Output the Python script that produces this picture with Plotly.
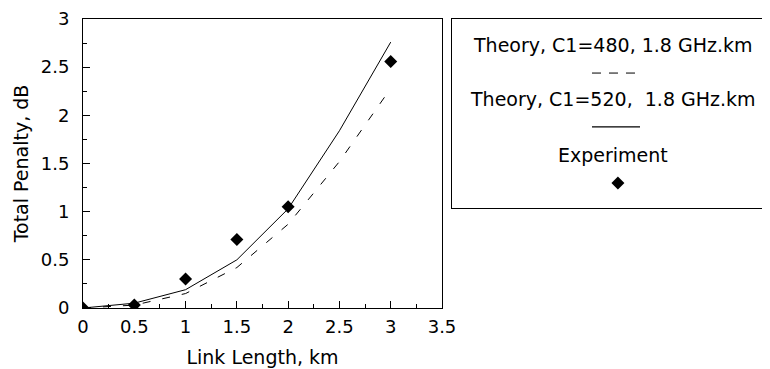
import plotly.graph_objects as go

# ---- data ----
link_km = [0, 0.5, 1.0, 1.5, 2.0, 2.5, 3.0]
theory_c480 = [0, 0.03, 0.15, 0.42, 0.87, 1.52, 2.28]
theory_c520 = [0, 0.05, 0.19, 0.50, 1.03, 1.84, 2.76]
exp_km = [0, 0.5, 1.0, 1.5, 2.0, 3.0]
exp_penalty = [0, 0.03, 0.30, 0.71, 1.05, 2.56]

x_tickvals = [0, 0.5, 1, 1.5, 2, 2.5, 3, 3.5]
x_ticktext = ["0", "0.5", "1", "1.5", "2", "2.5", "3", "3.5"]
y_tickvals = [0, 0.5, 1, 1.5, 2, 2.5, 3]
y_ticktext = ["0", "0.5", "1", "1.5", "2", "2.5", "3"]

label_c480 = "Theory, C1=480, 1.8 GHz.km"
label_c520 = "Theory, C1=520,  1.8 GHz.km"
label_exp = "Experiment"

FONT = "DejaVu Sans"
DASH = "8px,12px"

fig = go.Figure()

fig.add_trace(go.Scatter(x=link_km, y=theory_c480, mode="lines",
                         line=dict(color="black", width=1, dash=DASH),
                         showlegend=False))
fig.add_trace(go.Scatter(x=link_km, y=theory_c520, mode="lines",
                         line=dict(color="black", width=1),
                         showlegend=False))
fig.add_trace(go.Scatter(x=exp_km, y=exp_penalty, mode="markers",
                         marker=dict(symbol="diamond", size=10, color="black"),
                         showlegend=False))

# ---- custom legend box on hidden axes ----
fig.add_trace(go.Scatter(x=[0.443, 0.595], y=[0.714, 0.714], mode="lines",
                         line=dict(color="black", width=1, dash="9px,8px"),
                         xaxis="x2", yaxis="y2", showlegend=False))
fig.add_trace(go.Scatter(x=[0.443, 0.595], y=[0.429, 0.429], mode="lines",
                         line=dict(color="black", width=1.3),
                         xaxis="x2", yaxis="y2", showlegend=False))
fig.add_trace(go.Scatter(x=[0.525], y=[0.132], mode="markers",
                         marker=dict(symbol="diamond", size=10, color="black"),
                         xaxis="x2", yaxis="y2", showlegend=False))

for txt, yy in [(label_c480, 0.862), (label_c520, 0.577), (label_exp, 0.280)]:
    fig.add_annotation(x=0.509, y=yy, xref="x2", yref="y2", text=txt,
                       showarrow=False, font=dict(family=FONT, size=19, color="black"))

axis_common = dict(showline=True, mirror=True, linecolor="black", linewidth=1,
                   showgrid=False, zeroline=False, ticks="inside",
                   tickcolor="black", tickwidth=1, automargin=False,
                   tickfont=dict(family=FONT, size=18, color="black"))

# page body has an 8px default margin, so the figure is 8px smaller
fig.update_layout(
    width=762, height=361,
    margin=dict(l=75, r=2, t=11, b=61),
    paper_bgcolor="white", plot_bgcolor="white",
    font=dict(family=FONT, color="black"),
    xaxis=dict(domain=[0, 0.5241], range=[0, 3.5], tickvals=x_tickvals,
               ticktext=x_ticktext, ticklen=7,
               minor=dict(ticks="inside", dtick=0.25, ticklen=4, tickcolor="black"),
               title=dict(text="Link Length, km", font=dict(family=FONT, size=19), standoff=15),
               ticklabelstandoff=2, **axis_common),
    yaxis=dict(domain=[0, 1], range=[0, 3], tickvals=y_tickvals,
               ticktext=y_ticktext, ticklen=7,
               minor=dict(ticks="inside", dtick=0.25, ticklen=4, tickcolor="black"),
               title=dict(text="Total Penalty, dB", font=dict(family=FONT, size=19), standoff=7),
               ticklabelstandoff=9, **axis_common),
    xaxis2=dict(domain=[0.5387, 1.0], range=[0, 1], anchor="y2", automargin=False,
                showline=True, mirror=True, linecolor="black", linewidth=1,
                showgrid=False, zeroline=False, showticklabels=False, ticks=""),
    yaxis2=dict(domain=[0.346, 1.0], range=[0, 1], anchor="x2", automargin=False,
                showline=True, mirror=True, linecolor="black", linewidth=1,
                showgrid=False, zeroline=False, showticklabels=False, ticks=""),
)

fig.write_html("out.html")
